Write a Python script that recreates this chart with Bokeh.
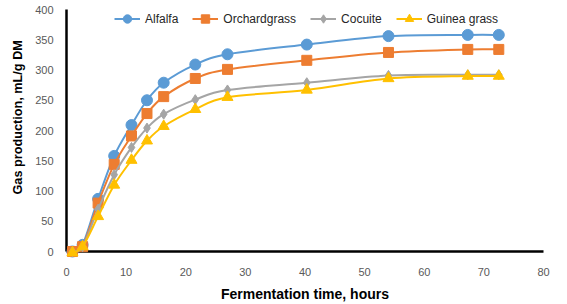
import numpy as np
from bokeh.plotting import figure
from bokeh.models import Range1d, Legend, LegendItem, ColumnDataSource, Title
from bokeh.embed import file_html
from bokeh.resources import INLINE

# ---- data ----
hours = [1.0, 2.7, 5.3, 8.0, 10.9, 13.5, 16.3, 21.6, 27.0, 40.3, 54.0, 67.3, 72.5]
alfalfa = [0, 11, 87, 158, 209, 250, 279, 309, 326, 342, 356, 358, 358]
orchardgrass = [0, 8, 80, 144, 191, 228, 256, 286, 301, 316, 329, 334, 334]
cocuite = [0, 8, 70, 127, 172, 204, 227, 251, 267, 279, 291, 292, 292]
guinea_grass = [-2, 8, 58, 110, 151, 183, 207, 235, 255, 267, 286, 290, 290]

series_names = ["Alfalfa", "Orchardgrass", "Cocuite", "Guinea grass"]
series_values = [alfalfa, orchardgrass, cocuite, guinea_grass]
colors = ["#5B9BD5", "#ED7D31", "#A5A5A5", "#FFC000"]
markers = ["circle", "square", "diamond", "triangle"]
marker_sizes = [11, 10, 10, 11]

x_ticks = [0, 10, 20, 30, 40, 50, 60, 70, 80]
y_ticks = [0, 50, 100, 150, 200, 250, 300, 350, 400]
x_title = "Fermentation time, hours"
y_title = "Gas production, mL/g DM"

FONT = "Liberation Sans"

p = figure(width=567, height=304, output_backend="svg", toolbar_location=None,
           x_range=Range1d(0, 80), y_range=Range1d(0, 400),
           min_border_left=63, min_border_right=24, min_border_top=9,
           min_border_bottom=52)
p.outline_line_color = None
p.xgrid.visible = False
p.ygrid.visible = False
p.background_fill_color = "white"
p.border_fill_color = "white"

for ax in (p.xaxis, p.yaxis):
    ax.axis_line_color = "black"
    ax.axis_line_width = 2.5
    ax.major_tick_line_color = None
    ax.minor_tick_line_color = None
    ax.major_label_text_font = FONT
    ax.major_label_text_font_size = "11px"
    ax.major_label_text_color = "#595959"
    ax.axis_label_text_font = FONT
    ax.axis_label_text_font_style = "bold"
    ax.axis_label_text_color = "black"

p.xaxis.ticker = x_ticks
p.yaxis.ticker = y_ticks
p.xaxis.axis_label = x_title
p.xaxis.axis_label_text_font_size = "14px"
p.xaxis.major_label_standoff = 10
p.yaxis.major_label_standoff = 7
p.xaxis.axis_label_standoff = 7

# y-axis title, placed higher than centre as in the reference
ytitle = Title(text=y_title, align="left", offset=57, standoff=16,
               text_font=FONT, text_font_style="bold", text_font_size="12.7px",
               text_color="black")
p.add_layout(ytitle, "left")


def smooth_segments(xs, ys):
    """Catmull-Rom style Bezier control points for a smoothed line."""
    xs = np.asarray(xs, float)
    ys = np.asarray(ys, float)
    n = len(xs)
    px = np.concatenate([[xs[0]], xs, [xs[-1]]])
    py = np.concatenate([[ys[0]], ys, [ys[-1]]])
    x0, y0 = xs[:-1], ys[:-1]
    x1, y1 = xs[1:], ys[1:]
    i = np.arange(n - 1) + 1
    cx0 = px[i] + (px[i + 1] - px[i - 1]) / 6.0
    cy0 = py[i] + (py[i + 1] - py[i - 1]) / 6.0
    cx1 = px[i + 1] - (px[i + 2] - px[i]) / 6.0
    cy1 = py[i + 1] - (py[i + 2] - py[i]) / 6.0
    return dict(x0=x0, y0=y0, x1=x1, y1=y1, cx0=cx0, cy0=cy0, cx1=cx1, cy1=cy1)


items = []
for name, vals, col, mk, ms in zip(series_names, series_values, colors, markers, marker_sizes):
    seg = ColumnDataSource(smooth_segments(hours, vals))
    p.bezier(x0="x0", y0="y0", x1="x1", y1="y1", cx0="cx0", cy0="cy0",
             cx1="cx1", cy1="cy1", source=seg, line_color=col, line_width=2,
             level="overlay")
    sc = p.scatter(x=hours, y=vals, marker=mk, size=ms, fill_color=col,
                   line_color=col, level="overlay")
    # single-point line: draws nothing on the plot, only supplies the legend stroke
    leg_line = p.line(x=hours[:1], y=vals[:1], line_color=col, line_width=2)
    items.append(LegendItem(label=name, renderers=[leg_line, sc]))

legend = Legend(items=items, orientation="horizontal", location=(48, 222),
                glyph_width=26, glyph_height=21, label_height=21,
                label_standoff=5, spacing=14,
                padding=0, margin=0, border_line_alpha=0,
                background_fill_alpha=0, label_text_font=FONT,
                label_text_font_size="12px", label_text_color="#262626")
p.add_layout(legend)

open("out.html", "w").write(file_html(p, INLINE))
